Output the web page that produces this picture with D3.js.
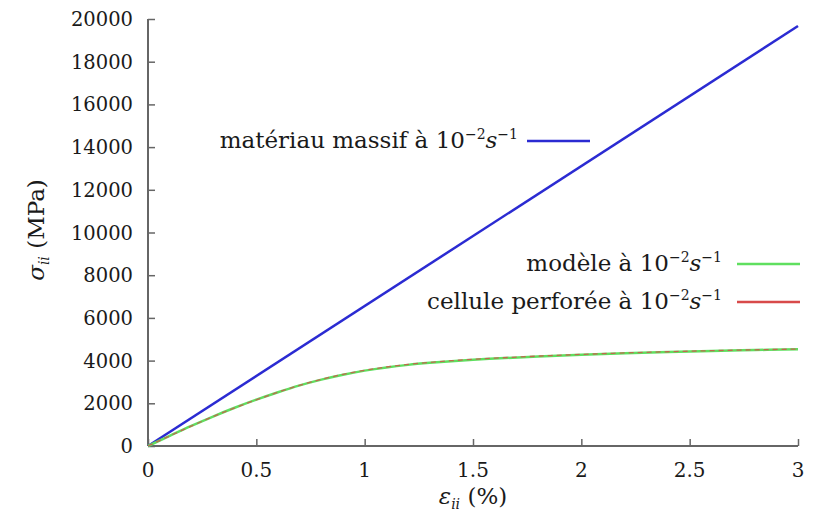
<!DOCTYPE html>
<html><head><meta charset="utf-8">
<script src="https://cdn.jsdelivr.net/npm/d3@7"></script>
<style>body{margin:0;background:#fff}svg{display:block}</style>
</head><body><svg id="c" width="819" height="518" font-family="DejaVu Serif, Liberation Serif, serif"></svg>
<script>
const strain = [0,0.1,0.2,0.3,0.4,0.5,0.6,0.7,0.8,0.9,1.0,1.1,1.2,1.3,1.4,1.5,1.6,1.8,2.0,2.2,2.4,2.6,2.8,3.0];
const modele = [0,475,940,1380,1790,2170,2520,2840,3110,3340,3530,3680,3800,3895,3975,4040,4095,4190,4270,4340,4400,4450,4495,4535];
const cellule = [0,470,935,1375,1785,2165,2520,2845,3120,3355,3545,3700,3820,3915,3995,4060,4115,4210,4290,4360,4415,4465,4505,4540];
const massifStrain = [0,3];
const massif = [0,19670];
const xTicks = [0,0.5,1,1.5,2,2.5,3];
const yTicks = [0,2000,4000,6000,8000,10000,12000,14000,16000,18000,20000];

const svg = d3.select('#c');
const x = d3.scaleLinear().domain([0,3]).range([148,798]);
const y = d3.scaleLinear().domain([0,20000]).range([446,19]);
const axisCol = '#666';
const txtCol = '#1a1a1a';

const gx = svg.append('g').attr('transform','translate(0,446)')
  .call(d3.axisTop(x).tickValues(xTicks).tickSize(7).tickFormat(''));
const gy = svg.append('g').attr('transform','translate(148,0)')
  .call(d3.axisRight(y).tickValues(yTicks).tickSize(7).tickFormat(''));
[gx,gy].forEach(g=>{g.selectAll('path').attr('stroke',axisCol).attr('stroke-width',2);
  g.selectAll('line').attr('stroke',axisCol).attr('stroke-width',1.5);});
gy.select('path').attr('d','M0,446V19');
gx.select('path').attr('d','M148,0H798');

svg.append('g').selectAll('text').data(xTicks).join('text')
  .attr('x',d=>x(d)).attr('y',477).attr('text-anchor','middle').attr('font-size',20).attr('fill',txtCol)
  .text(d=>String(d));
svg.append('g').selectAll('text').data(yTicks).join('text')
  .attr('x',133).attr('y',d=>y(d)+7).attr('text-anchor','end').attr('font-size',19.5).attr('fill',txtCol)
  .text(d=>String(d));

// axis labels
const xl = svg.append('text').attr('x',473).attr('y',504).attr('text-anchor','middle').attr('font-size',23).attr('fill',txtCol);
xl.append('tspan').attr('font-style','italic').text('ε');
xl.append('tspan').attr('font-style','italic').attr('font-size',14).attr('dy',5).text('ii');
xl.append('tspan').attr('dy',-5).text(' (%)');
const yl = svg.append('text').attr('transform','translate(44,230) rotate(-90)').attr('text-anchor','middle').attr('font-size',23).attr('fill',txtCol);
yl.append('tspan').attr('font-style','italic').text('σ');
yl.append('tspan').attr('font-style','italic').attr('font-size',14).attr('dy',5).text('ii');
yl.append('tspan').attr('dy',-5).text(' (MPa)');

const line = d3.line().x(d=>x(d[0])).y(d=>y(d[1]));
const col = {massif:'#2b2bd2', modele:'#5fdf5f', cellule:'#d84a4a'};
svg.append('path').attr('d',line(massifStrain.map((s,i)=>[s,massif[i]])))
  .attr('fill','none').attr('stroke',col.massif).attr('stroke-width',2.5);
const cl = d3.line().x(d=>x(d[0])).y(d=>y(d[1])).curve(d3.curveMonotoneX);
svg.append('path').attr('d',cl(strain.map((s,i)=>[s,modele[i]])))
  .attr('fill','none').attr('stroke',col.modele).attr('stroke-width',2.5);
svg.append('path').attr('d',cl(strain.map((s,i)=>[s,cellule[i]])))
  .attr('fill','none').attr('stroke',col.cellule).attr('stroke-width',1.3).attr('stroke-dasharray','5,4').attr('opacity',0.8);

// legend
const legend = [
  {name:'matériau massif à ', c:col.massif, tx:518, ly:141, lx0:527, lx1:590},
  {name:'modèle à ', c:col.modele, tx:722, ly:264, lx0:737, lx1:800},
  {name:'cellule perforée à ', c:col.cellule, tx:722, ly:302, lx0:737, lx1:800}
];
legend.forEach(l=>{
  const t = svg.append('text').attr('x',l.tx).attr('y',l.ly+7).attr('text-anchor','end').attr('font-size',23).attr('fill',txtCol);
  t.append('tspan').text(l.name+'10');
  t.append('tspan').attr('font-size',14).attr('dy',-9).text('−2');
  t.append('tspan').attr('font-style','italic').attr('dy',9).text('s');
  t.append('tspan').attr('font-size',14).attr('dy',-9).text('−1');
  svg.append('line').attr('x1',l.lx0).attr('x2',l.lx1).attr('y1',l.ly).attr('y2',l.ly)
    .attr('stroke',l.c).attr('stroke-width',2.5);
});
</script></body></html>
